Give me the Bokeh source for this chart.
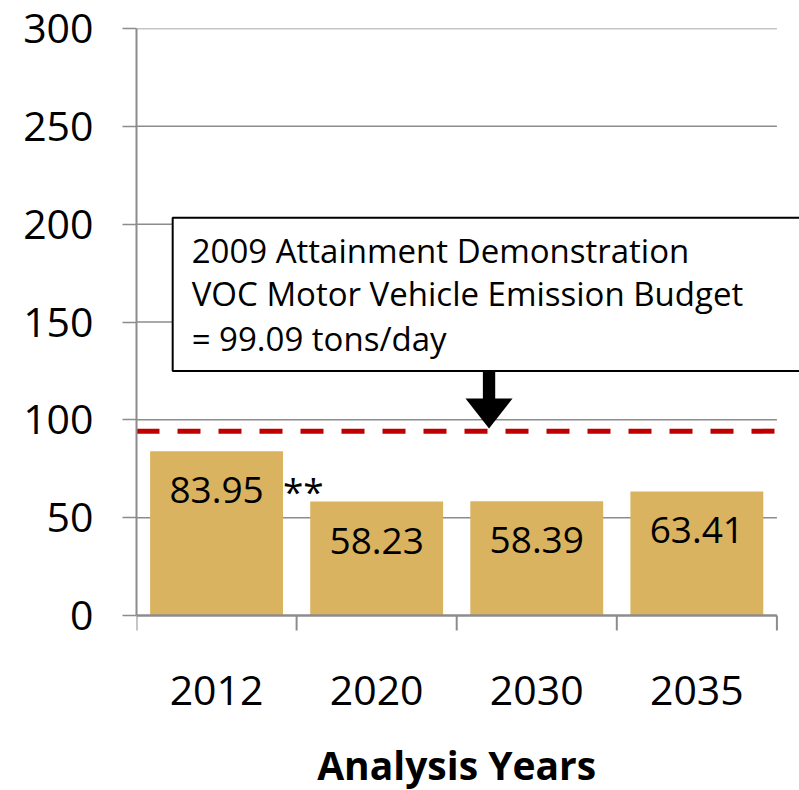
from bokeh.plotting import figure
from bokeh.models import Range1d, FixedTicker, ColumnDataSource
from bokeh.core.properties import value
from bokeh.embed import file_html
from bokeh.resources import INLINE

# ---- data ----
years = ["2012", "2020", "2030", "2035"]
emissions = [83.95, 58.23, 58.39, 63.41]
value_labels = ["83.95", "58.23", "58.39", "63.41"]
notes = ["**", "", "", ""]
budget_line = 94.2
y_ticks = [0, 50, 100, 150, 200, 250, 300]
budget_text = ["2009 Attainment Demonstration",
               "VOC Motor Vehicle Emission Budget",
               "= 99.09 tons/day"]
x_axis_title = "Analysis Years"

# ---- style / layout ----
FONT = "Open Sans"
GRAY = "#8C8C8C"
BAR_COLOR = "#D9B35F"
RED = "#C00000"
BAR_W = 0.83
n = len(years)
Y_MAX = 300
PX = 587 / Y_MAX                  # pixels per data unit (vertical)
FRAME_H = 790 - 28                # frame runs to the bottom edge
Y_START = Y_MAX - FRAME_H / PX    # room below zero for the category axis
X_END = 663 / 160.1               # frame extends past the last category

p = figure(width=799, height=790, output_backend="svg", toolbar_location=None,
           x_range=Range1d(0, X_END), y_range=Range1d(Y_START, Y_MAX),
           x_axis_location=None,
           min_border_left=136, min_border_right=0, min_border_top=28,
           min_border_bottom=0)
p.outline_line_color = None
p.xgrid.visible = False
p.ygrid.visible = False
p.background_fill_color = "white"

xc = [i + 0.5 for i in range(n)]

# gridlines
gy = [t for t in y_ticks if t > 0]
p.segment(x0=[0] * len(gy), x1=[n] * len(gy), y0=gy, y1=gy,
          line_color=GRAY, line_width=1.5)

# bars
src = ColumnDataSource(dict(x=xc, top=emissions, lab=value_labels, note=notes,
                            xr=[c + BAR_W / 2 for c in xc]))
p.vbar(x="x", top="top", width=BAR_W, source=src, fill_color=BAR_COLOR,
       line_color=None)
p.text(x="x", y="top", text="lab", source=src, y_offset=39,
       text_align="center", text_baseline="alphabetic",
       text_font=value(FONT), text_font_size="37px", text_color="black")
p.text(x="xr", y="top", text="note", source=src, y_offset=39,
       text_align="left", text_baseline="alphabetic",
       text_font=value(FONT), text_font_size="37px", text_color="black")

# budget line
p.segment(x0=[0], x1=[n], y0=[budget_line], y1=[budget_line],
          line_color=RED, line_width=5, line_dash="23 18")

# annotation box
BOX_LEFT, BOX_RIGHT, BOX_TOP, BOX_BOTTOM = 0.226, X_END + 1, 203.3, 124.9
p.quad(left=[BOX_LEFT], right=[BOX_RIGHT], top=[BOX_TOP], bottom=[BOX_BOTTOM],
       fill_color="white", line_color="black", line_width=2)
p.text(x=[BOX_LEFT] * 3, y=[BOX_TOP] * 3, text=budget_text,
       x_offset=19, y_offset=[32.4, 75.7, 120.7],
       text_align="left", text_baseline="alphabetic",
       text_font=value(FONT), text_font_size="33px", text_color="black")

# arrow
AX = 2.202
HEAD_BASE = 110.9
TIP = budget_line + 1.4
p.quad(left=[AX - 0.0385], right=[AX + 0.0385], top=[BOX_BOTTOM],
       bottom=[HEAD_BASE - 1], fill_color="black", line_color=None)
p.patch(x=[AX - 0.147, AX + 0.147, AX], y=[HEAD_BASE, HEAD_BASE, TIP],
        fill_color="black", line_color=None)

# category axis (drawn inside the frame, below zero)
bounds = list(range(n + 1))
TICK = 15 / PX
p.segment(x0=[0], x1=[n], y0=[0], y1=[0], line_color=GRAY, line_width=2.5)
p.segment(x0=bounds, x1=bounds, y0=[0] * len(bounds), y1=[-TICK] * len(bounds),
          line_color=GRAY, line_width=2)
p.text(x=xc, y=[0] * n, text=years, y_offset=75,
       text_align="center", text_baseline="alphabetic",
       text_font=value(FONT), text_font_size="41px", text_color="black")
p.text(x=[n / 2], y=[0], text=[x_axis_title], y_offset=149,
       text_align="center", text_baseline="alphabetic",
       text_font=value(FONT), text_font_style="bold", text_font_size="39px",
       text_color="black")

# y axis
ya = p.yaxis[0]
ya.ticker = FixedTicker(ticks=y_ticks)
ya.bounds = (0, Y_MAX)
ya.axis_line_color = GRAY
ya.axis_line_width = 2
ya.major_tick_line_color = GRAY
ya.major_tick_line_width = 1.5
ya.major_tick_out = 14
ya.major_tick_in = 0
ya.minor_tick_line_color = None
ya.major_label_standoff = 29
ya.major_label_text_font = FONT
ya.major_label_text_font_size = "41px"
ya.major_label_text_color = "black"

open("out.html", "w").write(file_html(p, INLINE))
